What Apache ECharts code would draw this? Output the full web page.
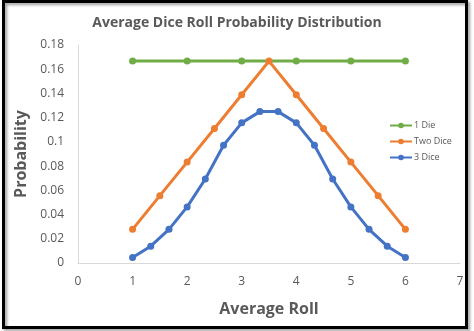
<!DOCTYPE html>
<html>
<head>
<meta charset="utf-8">
<script src="https://cdn.jsdelivr.net/npm/echarts@6/dist/echarts.min.js"></script>
<style>
  html, body { margin: 0; padding: 0; background: #fff; }
  #chart { width: 474px; height: 331px; }
</style>
</head>
<body>
<div id="chart"></div>
<script>
const oneDieX = [1, 2, 3, 4, 5, 6]
const oneDieY = [0.1667, 0.1667, 0.1667, 0.1667, 0.1667, 0.1667]

const twoDiceX = [1, 1.5, 2, 2.5, 3, 3.5, 4, 4.5, 5, 5.5, 6]
const twoDiceY = [0.0278, 0.0556, 0.0833, 0.1111, 0.1389, 0.1667, 0.1389, 0.1111, 0.0833, 0.0556, 0.0278]

const threeDiceX = [1, 1.333, 1.667, 2, 2.333, 2.667, 3, 3.333, 3.667, 4, 4.333, 4.667, 5, 5.333, 5.667, 6]
const threeDiceY = [0.0046, 0.0139, 0.0278, 0.0463, 0.0694, 0.0972, 0.1157, 0.125, 0.125, 0.1157, 0.0972, 0.0694, 0.0463, 0.0278, 0.0139, 0.0046]

const seriesNames = ['1 Die', 'Two Dice', '3 Dice']
const seriesColors = ['#70AD47', '#ED7D31', '#4472C4']

const textColor = '#595959'
const font = '"Open Sans", "Noto Sans", sans-serif'

function pairs(xs, ys) {
  return xs.map((x, i) => [x, ys[i]])
}

const chart = echarts.init(document.getElementById('chart'))

function makeSeries(name, xs, ys, color) {
  return {
    name: name,
    type: 'line',
    data: pairs(xs, ys),
    symbol: 'circle',
    symbolSize: 7,
    lineStyle: { color: color, width: 3 },
    itemStyle: { color: color },
    emphasis: { disabled: true }
  }
}

chart.setOption({
  animation: false,
  textStyle: { fontFamily: font },
  title: {
    text: 'Average Dice Roll Probability Distribution',
    left: 'center',
    top: 11,
    textStyle: { color: textColor, fontSize: 14, fontWeight: 'bold', fontFamily: font }
  },
  graphic: [{
    type: 'rect',
    z: 100,
    shape: { x: 3.5, y: 1.5, width: 463, height: 326 },
    style: { fill: 'none', stroke: '#000', lineWidth: 3, shadowColor: 'rgba(0,0,0,0.4)', shadowBlur: 3, shadowOffsetX: 2, shadowOffsetY: 2 }
  }],
  legend: {
    orient: 'vertical',
    left: 384,
    top: 116,
    itemWidth: 22,
    itemHeight: 7,
    itemGap: 7,
    data: seriesNames,
    textStyle: { color: textColor, fontSize: 9, fontFamily: font, padding: [0, 0, 0, -3] }
  },
  grid: { left: 78, right: 14, top: 45, bottom: 68 },
  xAxis: {
    type: 'value',
    min: 0,
    max: 7,
    interval: 1,
    name: 'Average Roll',
    nameLocation: 'middle',
    nameGap: 38,
    nameTextStyle: { color: textColor, fontSize: 16, fontWeight: 'bold', fontFamily: font },
    axisLine: { lineStyle: { color: '#d9d9d9' } },
    axisTick: { show: false },
    splitLine: { show: false },
    axisLabel: { color: textColor, fontSize: 12, margin: 13 }
  },
  yAxis: {
    type: 'value',
    min: 0,
    max: 0.18,
    interval: 0.02,
    name: 'Probability',
    nameLocation: 'middle',
    nameGap: 44,
    nameTextStyle: { color: textColor, fontSize: 16, fontWeight: 'bold', fontFamily: font },
    axisLine: { show: true, lineStyle: { color: '#d9d9d9' } },
    axisTick: { show: false },
    splitLine: { show: false },
    axisLabel: {
      color: textColor,
      fontSize: 12,
      margin: 14,
      formatter: v => String(parseFloat(v.toFixed(2)))
    }
  },
  series: [
    makeSeries(seriesNames[0], oneDieX, oneDieY, seriesColors[0]),
    makeSeries(seriesNames[1], twoDiceX, twoDiceY, seriesColors[1]),
    makeSeries(seriesNames[2], threeDiceX, threeDiceY, seriesColors[2])
  ]
})
</script>
</body>
</html>
